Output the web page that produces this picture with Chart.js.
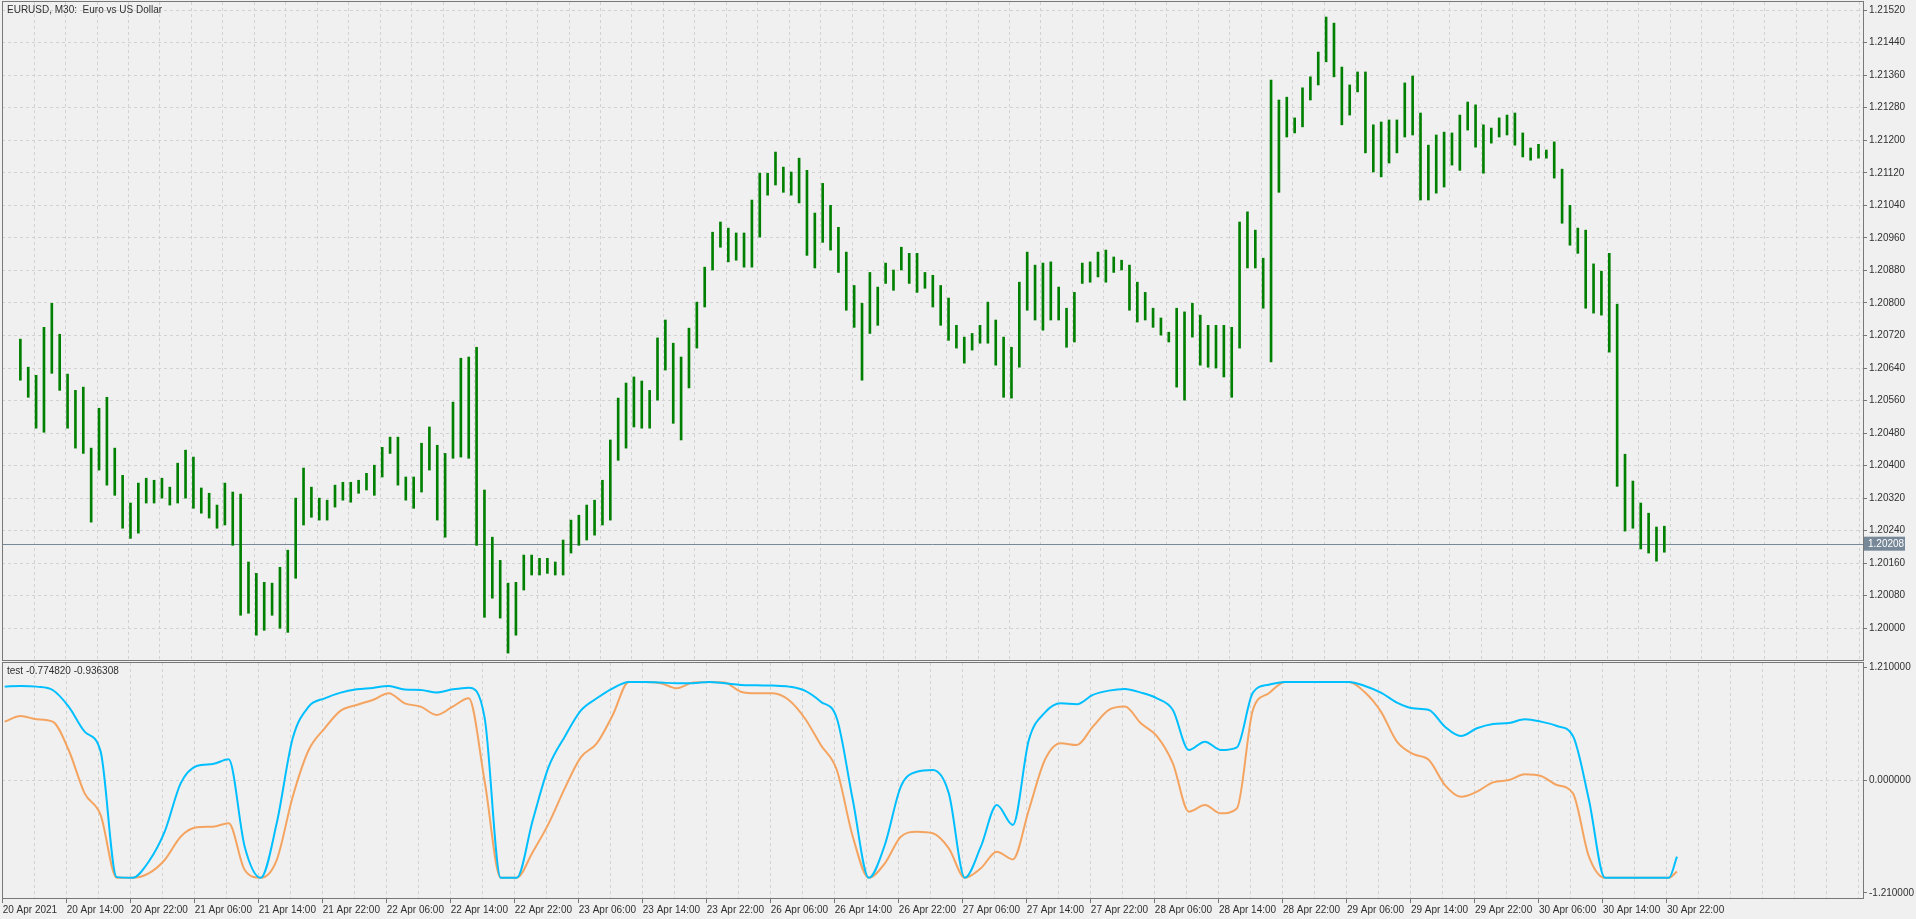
<!DOCTYPE html>
<html><head><meta charset="utf-8">
<script src="https://cdn.jsdelivr.net/npm/chart.js@4.4.1/dist/chart.umd.min.js"></script>
<style>
html,body{margin:0;padding:0;background:#f0f0f0;width:1916px;height:919px;overflow:hidden}
canvas{position:absolute;left:0}
#c1{top:0}#c2{top:661px}
</style></head><body>
<canvas id="c1" width="1916" height="661"></canvas>
<canvas id="c2" width="1916" height="258"></canvas>
<script>
const priceHighs=[1.20711,1.20642,1.20622,1.20740,1.20799,1.20723,1.20625,1.20585,1.20593,1.20443,
1.20541,1.20568,1.20443,1.20376,1.20308,1.20357,1.20369,1.20364,1.20369,1.20347,
1.20406,1.20438,1.20421,1.20345,1.20332,1.20303,1.20357,1.20335,1.20330,1.20163,
1.20135,1.20113,1.20111,1.20150,1.20192,1.20320,1.20394,1.20347,1.20320,1.20315,
1.20352,1.20359,1.20359,1.20364,1.20381,1.20401,1.20445,1.20470,1.20470,1.20372,
1.20372,1.20455,1.20495,1.20450,1.20430,1.20556,1.20664,1.20667,1.20691,1.20340,
1.20224,1.20167,1.20111,1.20113,1.20180,1.20180,1.20172,1.20172,1.20163,1.20217,
1.20266,1.20278,1.20303,1.20315,1.20364,1.20463,1.20566,1.20603,1.20618,1.20608,
1.20585,1.20714,1.20758,1.20701,1.20667,1.20738,1.20802,1.20888,1.20974,1.20999,
1.20984,1.20972,1.20972,1.21053,1.21119,1.21119,1.21171,1.21134,1.21122,1.21156,
1.21126,1.21021,1.21094,1.21040,1.20986,1.20925,1.20843,1.20799,1.20875,1.20839,
1.20898,1.20881,1.20937,1.20922,1.20922,1.20875,1.20868,1.20843,1.20812,1.20745,
1.20716,1.20725,1.20745,1.20802,1.20758,1.20716,1.20691,1.20851,1.20925,1.20893,
1.20898,1.20901,1.20839,1.20787,1.20826,1.20898,1.20901,1.20925,1.20930,1.20913,
1.20905,1.20893,1.20851,1.20826,1.20787,1.20763,1.20728,1.20787,1.20778,1.20799,
1.20770,1.20745,1.20745,1.20745,1.20740,1.20999,1.21024,1.20979,1.20910,1.21348,
1.21299,1.21306,1.21255,1.21329,1.21356,1.21417,1.21503,1.21488,1.21380,1.21336,
1.21368,1.21368,1.21238,1.21245,1.21250,1.21250,1.21341,1.21358,1.21267,1.21188,
1.21213,1.21220,1.21218,1.21262,1.21294,1.21287,1.21238,1.21230,1.21255,1.21262,
1.21267,1.21218,1.21181,1.21190,1.21176,1.21196,1.21129,1.21040,1.20984,1.20979,
1.20896,1.20878,1.20922,1.20797,1.20428,1.20362,1.20308,1.20283,1.20249,1.20251];
const priceLows=[1.20610,1.20568,1.20492,1.20482,1.20627,1.20585,1.20492,1.20443,1.20430,1.20261,
1.20389,1.20352,1.20327,1.20246,1.20221,1.20234,1.20308,1.20308,1.20320,1.20303,
1.20308,1.20320,1.20295,1.20283,1.20271,1.20246,1.20254,1.20204,1.20032,1.20037,
1.19983,1.19995,1.20032,1.20000,1.19990,1.20123,1.20254,1.20273,1.20266,1.20266,
1.20298,1.20315,1.20310,1.20332,1.20340,1.20327,1.20372,1.20430,1.20352,1.20315,
1.20295,1.20335,1.20389,1.20266,1.20224,1.20418,1.20421,1.20418,1.20204,1.20027,
1.20074,1.20025,1.19939,1.19983,1.20094,1.20131,1.20131,1.20135,1.20131,1.20131,
1.20185,1.20204,1.20217,1.20229,1.20254,1.20266,1.20413,1.20443,1.20495,1.20492,
1.20492,1.20561,1.20635,1.20504,1.20463,1.20591,1.20689,1.20790,1.20881,1.20937,
1.20901,1.20905,1.20888,1.20888,1.20962,1.21065,1.21090,1.21072,1.21065,1.21046,
1.20917,1.20886,1.20949,1.20930,1.20875,1.20782,1.20740,1.20610,1.20725,1.20745,
1.20848,1.20831,1.20881,1.20848,1.20826,1.20836,1.20790,1.20745,1.20708,1.20689,
1.20652,1.20684,1.20701,1.20701,1.20647,1.20568,1.20566,1.20642,1.20782,1.20758,
1.20733,1.20758,1.20758,1.20691,1.20704,1.20848,1.20851,1.20864,1.20851,1.20875,
1.20881,1.20782,1.20753,1.20758,1.20740,1.20721,1.20704,1.20593,1.20561,1.20716,
1.20647,1.20642,1.20640,1.20618,1.20568,1.20689,1.20886,1.20886,1.20787,1.20655,
1.21072,1.21208,1.21218,1.21233,1.21299,1.21336,1.21393,1.21356,1.21238,1.21262,
1.21319,1.21169,1.21122,1.21110,1.21144,1.21169,1.21208,1.21213,1.21053,1.21053,
1.21070,1.21085,1.21139,1.21126,1.21225,1.21183,1.21119,1.21193,1.21208,1.21213,
1.21188,1.21159,1.21151,1.21156,1.21156,1.21107,1.20996,1.20942,1.20922,1.20787,
1.20775,1.20770,1.20679,1.20349,1.20239,1.20246,1.20195,1.20185,1.20165,1.20187];
const oscBlue=[1.0,1.007,1.0,0.964,0.786,0.518,0.304,-1.04,-1.047,-0.875,
-0.554,-0.036,0.15,0.171,0.221,-0.714,-1.047,-0.464,0.446,0.786,
0.875,0.936,0.971,0.986,1.007,0.968,0.964,0.936,0.971,0.989,
0.66,-1.047,-1.047,-0.43,0.143,0.464,0.743,0.875,0.982,1.05,
1.05,1.043,1.036,1.036,1.05,1.036,1.018,1.014,1.011,1.0,
0.957,0.839,0.661,-0.214,-1.047,-0.696,-0.071,0.089,0.107,-0.143,
-1.047,-0.714,-0.268,-0.482,0.429,0.721,0.821,0.811,0.911,0.957,
0.975,0.936,0.875,0.75,0.321,0.411,0.321,0.35,0.936,1.021,
1.05,1.05,1.05,1.05,1.05,1.007,0.936,0.829,0.768,0.75,
0.571,0.471,0.554,0.6,0.611,0.65,0.625,0.579,0.471,-0.214,
-1.047,-1.047,-1.047,-1.047,-1.047,-0.82];
const oscOrange=[0.625,0.686,0.65,0.625,0.321,-0.143,-0.375,-1.047,-1.047,-1.0,
-0.857,-0.607,-0.507,-0.5,-0.464,-0.964,-1.047,-0.857,-0.179,0.321,
0.554,0.743,0.804,0.857,0.929,0.821,0.786,0.696,0.786,0.875,
-0.02,-1.047,-1.047,-0.77,-0.464,-0.089,0.243,0.393,0.696,1.05,
1.05,1.036,0.982,1.043,1.05,1.043,0.946,0.929,0.929,0.857,
0.661,0.375,0.107,-0.607,-1.047,-0.893,-0.607,-0.554,-0.571,-0.732,
-1.047,-0.946,-0.768,-0.85,-0.321,0.214,0.393,0.375,0.571,0.75,
0.786,0.607,0.471,0.179,-0.339,-0.268,-0.357,-0.304,0.75,0.929,
1.05,1.05,1.05,1.05,1.05,0.939,0.732,0.411,0.279,0.214,
-0.054,-0.179,-0.125,-0.025,0,0.061,0.043,-0.054,-0.143,-0.821,
-1.047,-1.047,-1.047,-1.047,-1.047,-0.98];
const oscHours=Array.from({length:105},(_,i)=>i*2).concat([209]);
const tickLabels=["20 Apr 2021","20 Apr 14:00","20 Apr 22:00","21 Apr 06:00","21 Apr 14:00","21 Apr 22:00","22 Apr 06:00","22 Apr 14:00","22 Apr 22:00","23 Apr 06:00","23 Apr 14:00","23 Apr 22:00","26 Apr 06:00","26 Apr 14:00","26 Apr 22:00","27 Apr 06:00","27 Apr 14:00","27 Apr 22:00","28 Apr 06:00","28 Apr 14:00","28 Apr 22:00","29 Apr 06:00","29 Apr 14:00","29 Apr 22:00","30 Apr 06:00","30 Apr 14:00","30 Apr 22:00"];
const priceTicks=[1.20000,1.20080,1.20160,1.20240,1.20320,1.20400,1.20480,1.20560,1.20640,1.20720,1.20800,1.20880,1.20960,1.21040,1.21120,1.21200,1.21280,1.21360,1.21440,1.21520];
const oscTicks=[-1.21,0,1.21];
const lastPrice=1.20208;
const titleMain="EURUSD, M30:  Euro vs US Dollar";
const titleOsc="test -0.774820 -0.936308";

const gridHours=[];for(let h=0;h<=232;h+=4)gridHours.push(h);
const labelAt={};tickLabels.forEach((t,i)=>labelAt[i*8]=t);
const FONT={family:"'Liberation Sans', Arial, sans-serif",size:10};
const GRID='#d2d2d2', BORDER='#787878', TXT='#303030';
Chart.defaults.font=FONT;
const noPad=s=>{s.paddingTop=0;s.paddingBottom=0;};
const xBase={type:'linear',min:-0.08,max:232.5,afterBuildTicks:s=>{s.ticks=gridHours.map(v=>({value:v}));}};

const panelPlugin={id:'panel',afterDraw(c){const a=c.chartArea,x=c.ctx;x.save();x.strokeStyle=BORDER;x.lineWidth=1;
x.strokeRect(a.left+0.5,a.top-0.5,a.right-a.left,a.bottom-a.top+1);
x.fillStyle=TXT;x.font="10px 'Liberation Sans', Arial";x.textBaseline='middle';x.textAlign='left';
x.fillText(c.options.plugins.panel.title,a.left+5,a.top+8);x.restore();}};

const priceLinePlugin={id:'pline',beforeDatasetsDraw(c){const y=Math.round(c.scales.y.getPixelForValue(lastPrice))+0.5,a=c.chartArea,x=c.ctx;
x.save();x.strokeStyle='#778899';x.lineWidth=1;x.beginPath();x.moveTo(a.left,y);x.lineTo(a.right,y);x.stroke();x.restore();},
afterDraw(c){const y=c.scales.y.getPixelForValue(lastPrice),a=c.chartArea,x=c.ctx;x.save();
x.fillStyle='#778899';x.fillRect(a.right+1,y-7,41,14);x.fillStyle='#ffffff';x.font="10px 'Liberation Sans', Arial";
x.textBaseline='middle';x.textAlign='left';x.fillText(lastPrice.toFixed(5),a.right+5,y+0.5);x.restore();}};

new Chart(document.getElementById('c1'),{
 type:'bar',
 data:{datasets:[{data:priceHighs.map((hi,i)=>({x:i+0.25,y:[priceLows[i],hi]})),backgroundColor:'#008000',borderWidth:0,barThickness:2,grouped:false}]},
 options:{responsive:false,animation:false,devicePixelRatio:1,
  layout:{padding:{left:2,top:2,right:0,bottom:1}},
  plugins:{legend:{display:false},tooltip:{enabled:false},panel:{title:titleMain}},
  scales:{
   x:{...xBase,ticks:{display:false},grid:{color:GRID,drawTicks:false},border:{display:false,dash:[3,3]},afterFit:s=>{s.height=0;s.paddingLeft=0;s.paddingRight=0;}},
   y:{position:'right',min:1.19922,max:1.21540,afterBuildTicks:s=>{s.ticks=priceTicks.map(v=>({value:v}));},
      ticks:{color:TXT,padding:2,callback:v=>v.toFixed(5)},
      grid:{color:GRID,tickLength:4,tickColor:BORDER},border:{display:false,dash:[3,3]},afterFit:s=>{s.width=53;noPad(s);}}
  }},
 plugins:[panelPlugin,priceLinePlugin]});

new Chart(document.getElementById('c2'),{
 type:'line',
 data:{datasets:[
  {data:oscHours.map((h,i)=>({x:h+0.25,y:oscBlue[i]})),borderColor:'#00bfff',borderWidth:2,pointRadius:0,fill:false,tension:0.3,cubicInterpolationMode:'monotone'},
  {data:oscHours.map((h,i)=>({x:h+0.25,y:oscOrange[i]})),borderColor:'#f4a460',borderWidth:2,pointRadius:0,fill:false,tension:0.3,cubicInterpolationMode:'monotone'}]},
 options:{responsive:false,animation:false,devicePixelRatio:1,
  layout:{padding:{left:2,top:2,right:0,bottom:0}},
  plugins:{legend:{display:false},tooltip:{enabled:false},panel:{title:titleOsc}},
  scales:{
   x:{...xBase,ticks:{color:TXT,align:'start',padding:1,maxRotation:0,autoSkip:false,callback:v=>labelAt[v]||''},
      grid:{color:GRID,tickLength:5,tickColor:c=>(c.tick&&labelAt[c.tick.value])?BORDER:'rgba(0,0,0,0)'},border:{display:false,dash:[3,3]},afterFit:s=>{s.height=21;s.paddingLeft=0;s.paddingRight=0;}},
   y:{position:'right',min:-1.2636,max:1.253,afterBuildTicks:s=>{s.ticks=oscTicks.map(v=>({value:v}));},
      ticks:{color:TXT,padding:2,callback:v=>v.toFixed(6)},
      grid:{color:c=>(c.tick&&c.tick.value===0)?GRID:'rgba(0,0,0,0)',tickLength:4,tickColor:BORDER},border:{display:false,dash:[3,3]},afterFit:s=>{s.width=53;noPad(s);}}
  }},
 plugins:[panelPlugin]});
</script></body></html>
